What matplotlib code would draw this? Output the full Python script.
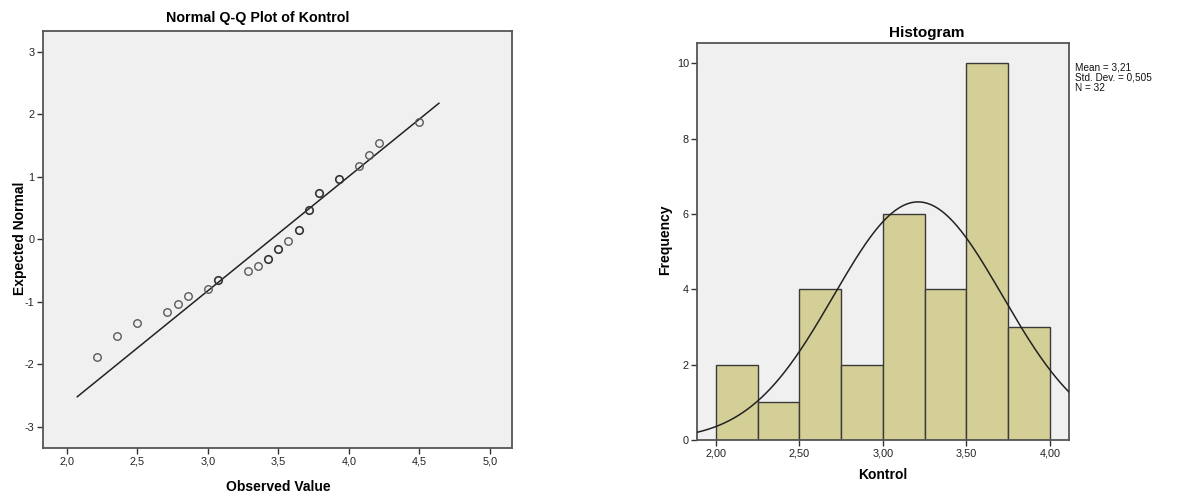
import numpy as np
import matplotlib
matplotlib.use("Agg")
import matplotlib.pyplot as plt
from matplotlib.ticker import FixedLocator, FuncFormatter

plt.rcParams['font.family'] = ['Liberation Sans', 'DejaVu Sans']

# ---- Q-Q plot data (observed score vs expected normal) ----
observed = [2.214, 2.357, 2.500, 2.714, 2.786, 2.857, 3.000, 3.071, 3.286, 3.357,
            3.429, 3.500, 3.571, 3.643, 3.714, 3.786, 3.929, 4.071, 4.143, 4.214, 4.500]
expected = [-1.88, -1.55, -1.34, -1.17, -1.03, -0.91, -0.80, -0.65, -0.51, -0.43,
            -0.31, -0.16, -0.03, 0.15, 0.47, 0.74, 0.96, 1.17, 1.34, 1.54, 1.87]
tied = [False, False, False, False, False, False, False, True, False, False,
        True, True, False, True, True, True, True, False, False, False, False]
line_mean, line_sd = 3.451, 0.546
line_range = (2.075, 4.638)
qq_xticks = [2.0, 2.5, 3.0, 3.5, 4.0, 4.5, 5.0]
qq_yticks = [-3, -2, -1, 0, 1, 2, 3]

# ---- Histogram data ----
bin_edges = [2.00, 2.25, 2.50, 2.75, 3.00, 3.25, 3.50, 3.75, 4.00]
counts = [2, 1, 4, 2, 6, 4, 10, 3]
mean_k, sd_k, n_k = 3.21, 0.505, 32
hist_xticks = [2.0, 2.5, 3.0, 3.5, 4.0]
hist_yticks = [0, 2, 4, 6, 8, 10]

W, H = 1196, 498
fig = plt.figure(figsize=(W / 100, H / 100), dpi=100)
fig.patch.set_facecolor('white')

BG = '#F0F0F0'
FRAME = '#555555'
TICKFS = 7.8


def comma(fmt):
    return FuncFormatter(lambda v, p: fmt.format(v).replace('.', ','))


def style(ax):
    ax.set_facecolor(BG)
    for s in ax.spines.values():
        s.set_color(FRAME)
        s.set_linewidth(1.3)
    ax.tick_params(direction='out', length=4, width=1, color='#333333',
                   labelsize=TICKFS, labelcolor='#222222', pad=2)


# ---- Left panel: Normal Q-Q plot ----
ax1 = fig.add_axes([42.7 / W, 1 - 448 / H, (512 - 42.7) / W, (448 - 31) / H])
style(ax1)
lx = np.array(line_range)
ax1.plot(lx, (lx - line_mean) / line_sd, color='#222222', lw=1.1, zorder=2)
for xv, yv, t in zip(observed, expected, tied):
    ax1.plot(xv, yv, 'o', ms=5.4, mfc='none',
             mec='#333333' if t else '#5a5a5a', mew=1.2 if t else 1.0, zorder=3)
ax1.set_xlim(1.83, 5.156)
ax1.set_ylim(-3.34, 3.33)
ax1.xaxis.set_major_locator(FixedLocator(qq_xticks))
ax1.yaxis.set_major_locator(FixedLocator(qq_yticks))
ax1.xaxis.set_major_formatter(comma('{:.1f}'))
ax1.yaxis.set_major_formatter(FuncFormatter(lambda v, p: f'{int(v)}'))

fig.text(258 / W, 1 - 18 / H, 'Normal Q-Q Plot of Kontrol', ha='center', va='center',
         fontsize=10.3, fontweight='bold')
fig.text(278 / W, 1 - 487 / H, 'Observed Value', ha='center', va='center',
         fontsize=10, fontweight='bold')
fig.text(20 / W, 1 - 238 / H, 'Expected Normal', ha='center', va='center',
         rotation=90, fontsize=10, fontweight='bold')

# ---- Right panel: Histogram with normal curve ----
ax2 = fig.add_axes([697.3 / W, 1 - 440 / H, (1069 - 697.3) / W, (440 - 43.3) / H])
style(ax2)
widths = np.diff(bin_edges)
ax2.bar(bin_edges[:-1], counts, width=widths, align='edge', color='#D3CF96',
        edgecolor='#3a3a3a', linewidth=1.0, zorder=2)
ax2.set_xlim(1.888, 4.114)
ax2.set_ylim(0, 10.53)
xs = np.linspace(1.888, 4.114, 400)
bw = bin_edges[1] - bin_edges[0]
curve = n_k * bw / (sd_k * np.sqrt(2 * np.pi)) * np.exp(-0.5 * ((xs - mean_k) / sd_k) ** 2)
ax2.plot(xs, curve, color='#222222', lw=1.1, zorder=3, clip_on=True)
ax2.xaxis.set_major_locator(FixedLocator(hist_xticks))
ax2.yaxis.set_major_locator(FixedLocator(hist_yticks))
ax2.xaxis.set_major_formatter(comma('{:.2f}'))
ax2.yaxis.set_major_formatter(FuncFormatter(lambda v, p: f'{int(v)}'))

fig.text(927 / W, 1 - 33 / H, 'Histogram', ha='center', va='center',
         fontsize=11, fontweight='bold')
fig.text(883 / W, 1 - 475 / H, 'Kontrol', ha='center', va='center',
         fontsize=10, fontweight='bold')
fig.text(665 / W, 1 - 240 / H, 'Frequency', ha='center', va='center',
         rotation=90, fontsize=10, fontweight='bold')
stats = (f'Mean = {mean_k:.2f}\nStd. Dev. = {sd_k:.3f}\nN = {n_k}').replace('.', ',')
stats = stats.replace('Std, Dev,', 'Std. Dev.')
fig.text(1075 / W, 1 - 63 / H, stats, ha='left', va='top', fontsize=7.2,
         linespacing=1.0, color='#111111')

fig.savefig('out.png', dpi=100, facecolor='white')
